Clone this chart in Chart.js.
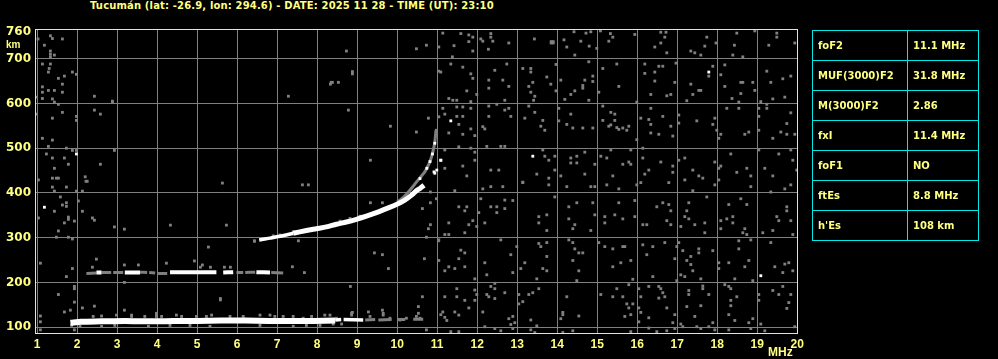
<!DOCTYPE html>
<html>
<head>
<meta charset="utf-8">
<script src="https://cdn.jsdelivr.net/npm/chart.js@4.4.1/dist/chart.umd.min.js"></script>
<style>
  body { margin:0; background:#000; width:998px; height:359px; overflow:hidden; position:relative; }
  #chart { position:absolute; left:0; top:0; }
  #title { position:absolute; left:90px; top:0; line-height:13px; font:bold 10px "DejaVu Sans", sans-serif; letter-spacing:0.15px; color:#ffff80; white-space:nowrap; }
  #params { position:absolute; left:812px; top:30px; width:166px; border-collapse:collapse; table-layout:fixed;
            font:bold 10px "DejaVu Sans", sans-serif; color:#ffff80; }
  #params td { border:1px solid #00e8e8; height:29px; padding:0 0 0 5px; white-space:nowrap; }
</style>
</head>
<body>
<div id="title"></div>
<canvas id="chart" width="998" height="359"></canvas>
<table id="params"><colgroup><col style="width:95px"><col style="width:71px"></colgroup><tbody></tbody></table>
<script>
// ---- texts
var titleText = 'Tucumán (lat: -26.9, lon: 294.6) - DATE: 2025 11 28 - TIME (UT): 23:10';
var xUnit = 'MHz';
var yUnit = 'km';
var paramNames = ['foF2', 'MUF(3000)F2', 'M(3000)F2', 'fxI', 'foF1', 'ftEs', "h'Es"];
var paramValues = ['11.1 MHz', '31.8 MHz', '2.86', '11.4 MHz', 'NO', '8.8 MHz', '108 km'];

// ---- axes
var freqTicks = [1, 2, 3, 4, 5, 6, 7, 8, 9, 10, 11, 12, 13, 14, 15, 16, 17, 18, 19, 20];
var heightTicks = [100, 200, 300, 400, 500, 600, 700, 760];

// ---- echo traces [MHz, km]  (null height = gap)
var eTrace = [[1.83,110],[2.1,112],[2.6,113],[3.2,114],[3.8,113],[4.4,114],[5.0,114],[5.6,115],[6.2,115],[6.8,114],[7.4,114],[7.9,114],[8.45,115]];
var eTailWhite = [[8.45,116],[8.6,117],[8.63,null],[8.66,117],[9.15,116]];
var eTailGray = [[9.2,116],[9.45,117],[9.5,null],[9.53,116],[9.86,117],[9.9,null],[10.0,117],[10.2,117],[10.3,null],[10.4,118],[10.65,118]];
var esGray = [[2.23,220],[2.48,221],[2.55,null],[2.62,222],[2.85,222],[2.88,null],[2.9,222],[3.15,222],[3.4,null],[3.57,223],[3.75,222],[3.78,null],[3.8,222],[3.95,221],[3.98,null],[4.0,220],[4.25,220],[5.0,null],[5.98,222],[6.15,222],[6.18,null],[6.2,222],[6.45,223],[6.6,null],[6.85,222],[7.15,221]];
var esWhite = [[2.48,222],[2.61,222],[2.9,null],[3.19,222],[3.57,222],[3.9,null],[4.32,223],[4.9,223],[5.48,223],[5.55,null],[5.65,222],[5.9,223],[6.2,null],[6.48,223],[6.82,222]];
var fStart = [[6.55,295],[6.82,299],[7.07,303],[7.40,310]];
var fMain = [[7.40,310],[7.73,316],[7.98,320],[8.23,324],[8.48,330],[8.73,335],[8.98,341],[9.23,348],[9.48,356],[9.73,365],[9.98,374],[10.19,384],[10.36,395],[10.48,405],[10.57,410],[10.67,417]];
var fUpper = [[10.0,380],[10.1,386],[10.23,397],[10.40,415],[10.55,432],[10.69,447],[10.80,466],[10.86,481],[10.90,495],[10.94,513],[10.97,540]];
var fWhiteDots = [[10.94,511],[10.88,487],[10.82,470],[10.74,455],[10.92,447],[10.94,444],[11.09,473],[10.57,432]];
var traceFringe = [
  [2.40,124],[2.61,125],[2.98,127],[3.36,127],[3.36,124],[3.69,124],[3.98,131],[3.98,127],[3.98,124],[4.11,124],[4.48,127],[4.61,124],[4.98,124],[5.23,124],[5.36,127],[5.82,124],[6.15,124],[6.57,127],[6.82,127],[6.94,124],[7.15,124],[7.40,124],[7.65,120],[7.86,124],[8.19,127],[8.32,127],[8.48,120],[8.86,131],[8.86,127],[9.32,124],[9.65,131],[9.65,127],[9.82,120],[10.07,116],[10.23,120],[10.48,124],[10.57,120],
  [1.86,104],[2.07,102],[2.61,102],[2.94,104],[3.78,102],[4.32,104],[4.82,104],[5.32,102],[6.57,104],[7.40,102],[7.73,104],[8.07,104],[8.40,107],[8.61,107],
  [6.65,296],[6.9,304],[7.07,306],[7.4,313],[8.57,337],[8.82,343],[9.07,348]
];

// ---- scattered interference dots [MHz, km]
var noiseLow = [
  [1.02,744],[1.18,730],[1.33,751],[1.38,745],[1.63,744],[1.33,717],[1.33,710],[1.33,704],[1.43,708],[1.13,688],[1.33,688],[1.30,678],[1.28,670],[1.53,656],[1.68,661],[1.88,670],[1.98,665],[1.63,643],[1.13,637],[1.13,625],[1.28,629],[1.43,629],[1.63,625],[1.13,611],[1.38,610],[1.43,603],[1.53,598],[0.98,614],[2.43,616],[2.88,605],[2.88,602],[2.43,585],[2.58,576],[1.63,580],[1.38,567],[0.98,576],[1.98,571],[1.98,562],[1.13,522],[1.38,518],[1.28,504],[1.73,500],[1.88,495],[1.98,495],[2.93,495],[1.23,487],[1.38,478],[1.68,478],[1.78,464],[2.58,464],[1.43,455],[1.38,433],[1.48,433],[1.53,433],[1.03,429],[2.20,436],[2.22,426],[2.25,426],[1.73,413],[1.38,413],[1.43,404],[1.98,404],[2.13,404],[1.58,391],[2.03,382],[1.73,378],[1.73,370],[1.63,373],[1.43,359],[2.13,359],[1.03,344],[1.78,346],[1.78,341],[1.93,337],[1.68,333],[2.38,344],[2.43,339],[2.93,324],[3.18,319],[4.33,328],[5.73,328],[5.63,422],[1.53,315],[1.48,301],[1.78,301],[1.88,297],[6.43,292],[5.28,279],[1.08,243],[2.48,252],[2.38,234],[3.18,239],[3.53,239],[4.23,243],[4.93,248],[5.13,239],[5.08,234],[5.33,234],[5.68,234],[5.83,234],
  [8.73,717],[10.48,722],[10.73,730],[8.88,671],[8.88,666],[8.35,647],[8.38,647],[8.33,643],[8.53,647],[7.28,616],[8.78,585],[10.78,567],[9.83,549],[10.48,536],[9.33,473],
  [1.88,231],[9.43,266],[9.63,262],[9.78,231],[7.38,235],[7.68,222],[1.73,213],[1.93,191],[1.93,186],[1.53,173],[1.93,156],[1.68,134],[1.83,138],[2.13,143],[2.43,147],[3.18,200],[3.18,138],[5.58,164],[5.58,161],[8.83,191],[10.63,168],[10.53,146],[10.53,131],[9.28,134],[9.63,138],[8.88,133],[10.68,253],[1.08,125],[1.08,112],[1.08,94],[1.93,94],[10.73,94],
  [7.63,418],[7.78,418],[6.43,293],[7.53,293],[9.33,378],[9.63,378],[10.83,378],[10.83,329],[10.78,320],[10.73,301],[10.83,402],[10.98,387],[10.63,365],[10.98,540],[10.98,530]
];
var noiseHigh = [
  [11.14,757],[11.59,756],[11.79,753],[11.89,748],[11.79,738],[11.89,717],[11.42,729],[11.38,704],[11.04,726],[12.09,744],[12.14,739],[12.34,756],[12.34,748],[12.39,739],[12.28,721],[12.79,735],[13.43,744],[13.85,738],[13.9,738],[13.85,735],[13.9,735],[14.17,742],[14.24,726],[14.42,760],[14.44,708],[14.59,739],[14.72,757],[14.84,760],[14.80,728],[14.99,723],[15.08,762],[15.33,756],[15.39,748],[15.29,739],[15.94,754],[16.59,759],[16.72,759],[16.69,748],[16.59,735],[16.44,726],[16.74,713],[17.34,717],[17.44,713],[17.59,708],[17.74,748],[17.69,728],[17.97,735],[18.49,757],[18.43,730],[18.39,708],[18.64,704],[18.94,762],[19.49,757],[19.49,748],[19.29,730],[19.94,735],
  [11.04,672],[11.09,670],[11.34,688],[11.64,681],[11.84,666],[11.89,656],[11.74,628],[11.29,611],[11.39,607],[11.49,607],[11.84,604],[11.99,620],[12.29,652],[12.29,634],[12.44,674],[12.64,652],[12.74,688],[12.79,638],[12.69,607],[13.14,678],[13.34,678],[13.34,670],[13.29,638],[13.39,647],[13.34,625],[13.44,616],[13.41,607],[13.74,659],[13.84,643],[13.97,687],[13.97,628],[14.09,652],[14.19,609],[14.34,620],[14.44,628],[14.64,634],[14.64,640],[14.69,652],[14.79,607],[14.79,693],[14.89,661],[14.89,649],[15.04,625],[15.14,678],[15.49,688],[15.54,638],[15.99,603],[16.19,688],[16.19,667],[16.44,670],[16.54,683],[16.64,683],[16.74,617],[16.84,620],[16.44,650],[16.34,620],[16.97,690],[16.94,647],[17.24,606],[17.34,643],[17.39,620],[17.54,629],[17.59,629],[17.79,661],[17.89,683],[18.09,664],[18.19,686],[18.19,638],[18.37,611],[18.59,647],[18.64,647],[18.59,622],[18.89,647],[18.94,629],[18.54,603],[19.24,672],[19.34,647],[19.64,655],[19.69,614],[19.39,610],[19.84,661],[19.09,604],
  [11.04,570],[11.14,589],[11.49,592],[11.64,592],[11.84,589],[11.19,576],[11.49,571],[11.64,571],[11.54,553],[11.84,543],[11.29,534],[11.64,531],[12.14,548],[12.19,543],[12.29,594],[12.29,571],[12.49,598],[12.69,585],[12.79,589],[12.84,571],[13.19,567],[13.29,594],[13.44,580],[13.59,549],[13.64,562],[13.69,540],[14.04,589],[14.04,561],[14.24,553],[14.34,576],[14.39,545],[14.64,545],[14.89,545],[15.14,594],[15.14,562],[15.34,580],[15.44,576],[15.44,562],[15.29,549],[15.34,552],[15.49,546],[15.54,542],[15.64,545],[15.79,549],[15.74,540],[16.09,567],[16.29,564],[16.34,589],[16.34,553],[16.34,534],[16.54,531],[16.64,571],[16.84,549],[16.89,527],[17.04,574],[17.04,556],[17.49,561],[17.94,567],[17.89,553],[17.99,540],[18.09,531],[18.04,522],[18.24,589],[18.54,589],[18.69,531],[18.79,536],[19.04,589],[19.04,571],[19.24,589],[19.24,598],[19.04,540],[19.39,522],[19.59,536],[19.74,531],[19.84,579],[19.74,555],[19.94,531],[15.99,519],[11.94,528],
  [11.19,496],[11.54,503],[11.84,500],[11.94,491],[11.94,473],[11.64,460],[11.19,455],[11.74,438],[12.24,504],[12.59,504],[12.69,504],[12.34,451],[12.54,451],[13.14,424],[13.64,496],[13.69,482],[13.49,442],[13.79,473],[13.94,482],[13.94,451],[13.79,433],[14.09,438],[14.34,478],[14.34,467],[14.49,482],[14.49,467],[14.69,491],[14.94,464],[14.69,442],[15.09,482],[15.24,478],[15.34,496],[15.39,438],[15.64,464],[15.79,469],[15.84,496],[15.84,464],[16.14,500],[16.14,478],[16.29,451],[16.19,442],[16.59,469],[16.89,460],[17.04,473],[17.19,478],[16.89,446],[17.39,451],[17.54,438],[17.64,433],[17.94,469],[18.09,460],[18.04,455],[18.34,487],[18.49,446],[18.74,455],[18.84,438],[19.04,496],[19.19,455],[19.54,487],[19.89,473],[19.84,496],[19.99,451],[17.19,429],[18.04,429],[19.39,438],
  [11.44,405],[12.14,409],[12.34,414],[12.64,414],[13.14,423],[13.79,418],[14.24,414],[14.84,414],[14.94,414],[15.24,418],[15.54,409],[15.99,418],[16.09,423],[16.79,423],[17.39,405],[17.94,418],[18.84,414],[19.34,402],[19.69,409],[19.84,418],
  [11.54,369],[11.69,360],[11.74,369],[11.29,333],[11.19,307],[11.29,307],[11.69,311],[11.79,329],[11.89,338],[11.99,325],[12.04,356],[12.09,387],[12.19,333],[12.34,369],[12.49,369],[12.49,356],[12.69,384],[12.69,365],[12.89,383],[13.54,347],[13.74,351],[13.54,333],[13.74,316],[13.94,391],[14.29,369],[14.29,342],[14.39,320],[14.44,329],[14.49,378],[14.84,316],[14.89,378],[14.94,351],[15.19,347],[15.19,333],[15.44,351],[15.54,378],[15.64,342],[15.94,383],[15.94,347],[16.14,329],[16.24,329],[16.49,369],[16.64,378],[16.79,374],[16.84,360],[16.74,338],[16.84,329],[17.09,325],[17.19,347],[17.24,360],[17.29,378],[17.29,342],[17.44,329],[17.69,333],[17.74,391],[17.69,311],[18.09,338],[18.09,320],[18.24,342],[18.29,374],[18.39,347],[18.39,333],[18.59,387],[18.74,374],[18.64,311],[18.69,320],[18.74,307],[19.14,311],[19.39,316],[19.49,347],[19.54,338],[19.74,360],[19.84,338],[19.89,307],[19.74,369],
  [11.04,295],[11.04,249],[11.19,226],[11.29,235],[11.44,231],[11.54,253],[11.59,272],[11.69,266],[11.69,235],[11.94,208],[12.19,244],[12.24,217],[12.59,295],[12.84,262],[12.89,222],[12.99,280],[13.09,231],[13.19,244],[13.54,287],[13.59,280],[13.74,289],[13.64,231],[13.74,226],[13.74,258],[13.49,208],[14.29,295],[14.39,289],[14.44,275],[14.54,266],[14.64,266],[14.39,249],[14.54,226],[14.49,204],[15.04,289],[15.19,280],[15.39,275],[15.64,280],[15.69,280],[15.59,244],[15.84,249],[15.39,235],[15.89,207],[16.14,284],[16.39,280],[16.24,262],[16.69,289],[16.94,253],[16.99,280],[16.39,213],[16.99,204],[17.04,289],[17.14,271],[17.24,249],[17.34,258],[17.34,240],[17.54,275],[17.54,266],[17.39,226],[17.09,217],[17.19,213],[17.59,208],[17.89,271],[18.04,244],[18.04,231],[18.29,244],[18.44,208],[18.54,293],[18.54,275],[18.69,235],[18.79,249],[18.84,295],[18.89,204],[19.34,289],[19.44,235],[19.64,222],[19.69,241],[19.79,244],[19.89,226],[11.03,293],
  [11.19,168],[11.49,186],[11.49,168],[11.69,160],[11.79,143],[11.94,183],[11.99,173],[11.94,160],[11.44,134],[11.54,127],[11.14,134],[11.19,122],[11.09,128],[11.24,115],[12.14,134],[12.24,173],[12.34,191],[12.44,186],[12.44,164],[12.44,198],[12.29,168],[12.69,177],[12.79,119],[12.89,124],[12.94,110],[12.84,106],[13.04,173],[13.04,152],[13.14,157],[13.29,173],[13.39,177],[13.54,186],[13.34,116],[13.49,103],[14.14,133],[14.14,128],[14.09,119],[14.24,168],[14.54,125],[15.09,173],[15.39,168],[15.49,186],[15.64,168],[15.79,195],[15.74,152],[15.79,143],[15.89,152],[15.84,128],[15.69,124],[16.04,186],[16.09,168],[16.04,143],[16.09,133],[16.04,112],[16.29,191],[16.29,121],[16.54,191],[16.59,186],[16.64,177],[16.69,168],[16.54,165],[16.74,143],[16.94,128],[16.89,110],[17.09,107],[17.29,182],[17.29,173],[17.24,146],[17.44,124],[17.59,148],[17.64,192],[17.64,186],[17.79,173],[17.89,110],[18.19,195],[18.29,191],[18.34,186],[18.49,168],[18.34,160],[18.34,148],[18.29,128],[18.44,115],[18.79,110],[18.89,119],[19.09,107],[19.04,173],[19.04,160],[19.39,182],[19.54,173],[19.64,191],[19.74,142],[19.79,155],[19.84,173],
  [11.34,90],[11.54,90],[12.19,101],[12.44,97],[12.59,92],[12.89,97],[13.34,94],[13.44,88],[14.14,88],[14.39,92],[15.84,90],[16.29,98],[16.49,90],[16.74,92],[16.94,97],[17.14,101],[17.49,101],[17.59,97],[17.79,101],[17.94,94],[18.29,94],[18.84,97],[19.19,92],[19.94,101]
];
var whiteDots = [[17.79,670],[11.34,561],[11.09,473],[10.99,451],[13.39,482],[19.09,215],[1.98,487],[1.18,368]];

// ---- page texts
document.getElementById('title').textContent = titleText;
var rows = '';
for (var i = 0; i < paramNames.length; i++) {
  rows += '<tr><td>' + paramNames[i] + '</td><td>' + paramValues[i] + '</td></tr>';
}
document.querySelector('#params tbody').innerHTML = rows;

// ---- helpers
function toPts(arr) {
  return arr.map(function(p){ return {x: p[0], y: p[1]}; });
}
function lineSet(arr, color, width) {
  return { data: toPts(arr), showLine: true, borderColor: color, borderWidth: width, pointRadius: 0,
           tension: 0.3, spanGaps: false, borderCapStyle: 'butt' };
}
function dotSet(arr, color, r) {
  return { data: toPts(arr), showLine: false, pointStyle: 'rect', pointRadius: r, pointHoverRadius: r,
           backgroundColor: color, pointBackgroundColor: color, pointBorderWidth: 0 };
}

var GRAY = '#808080';
var WHITE = '#ffffff';
var TEXT = '#ffff80';

// frame around the plot + unit labels
var framePlugin = {
  id: 'frame',
  afterDraw: function(chart) {
    var ctx = chart.ctx, a = chart.chartArea;
    ctx.save();
    ctx.strokeStyle = '#ffff00';
    ctx.lineWidth = 1;
    ctx.strokeRect(a.left - 0.5, a.top - 0.5, a.right - a.left, a.bottom - a.top + 1);
    ctx.fillStyle = TEXT;
    ctx.textBaseline = 'alphabetic';
    ctx.font = 'bold 10px "Liberation Sans"';
    ctx.fillText(yUnit, 6, 48);
    ctx.font = 'bold 12px "Liberation Sans"';
    ctx.fillText(xUnit, 768, 356);
    ctx.restore();
  }
};

var datasets = [
  lineSet(fMain, WHITE, 5),
  lineSet(fStart, WHITE, 3.5),
  dotSet(fWhiteDots, WHITE, 2),
  lineSet(fUpper, GRAY, 3),
  lineSet(eTrace, WHITE, 6),
  lineSet(eTailWhite, WHITE, 3.5),
  lineSet(eTailGray, GRAY, 3),
  lineSet(esWhite, WHITE, 4),
  lineSet(esGray, GRAY, 3),
  dotSet(traceFringe, GRAY, 2),
  dotSet(whiteDots, WHITE, 2),
  dotSet(noiseLow, GRAY, 2),
  dotSet(noiseHigh, GRAY, 2)
];

new Chart(document.getElementById('chart'), {
  type: 'scatter',
  data: { datasets: datasets },
  options: {
    responsive: false,
    devicePixelRatio: 1,
    animation: false,
    events: [],
    layout: { padding: { left: 0, top: 30, right: 200, bottom: 0 } },
    plugins: { legend: { display: false }, tooltip: { enabled: false }, title: { display: false } },
    scales: {
      x: {
        type: 'linear', min: 0.97, max: 20.02,
        afterBuildTicks: function(scale){ scale.ticks = freqTicks.map(function(v){ return {value: v}; }); },
        afterFit: function(scale){ scale.height = 26; },
        border: { display: false },
        grid: { color: GRAY, lineWidth: 1, drawTicks: false },
        ticks: { color: TEXT, padding: 4, autoSkip: false, maxRotation: 0,
                 font: { family: 'Liberation Sans', weight: 'bold', size: 12 } }
      },
      y: {
        type: 'linear', min: 87, max: 764,
        afterBuildTicks: function(scale){ scale.ticks = heightTicks.map(function(v){ return {value: v}; }); },
        afterFit: function(scale){ scale.width = 36; },
        border: { display: false },
        grid: { color: function(c){ return c.tick && c.tick.value === 760 ? 'rgba(0,0,0,0)' : GRAY; }, lineWidth: 1, drawTicks: false },
        ticks: { color: TEXT, padding: 5, autoSkip: false,
                 font: { family: 'DejaVu Sans', weight: 'bold', size: 12 } }
      }
    }
  },
  plugins: [framePlugin]
});
</script>
</body>
</html>
